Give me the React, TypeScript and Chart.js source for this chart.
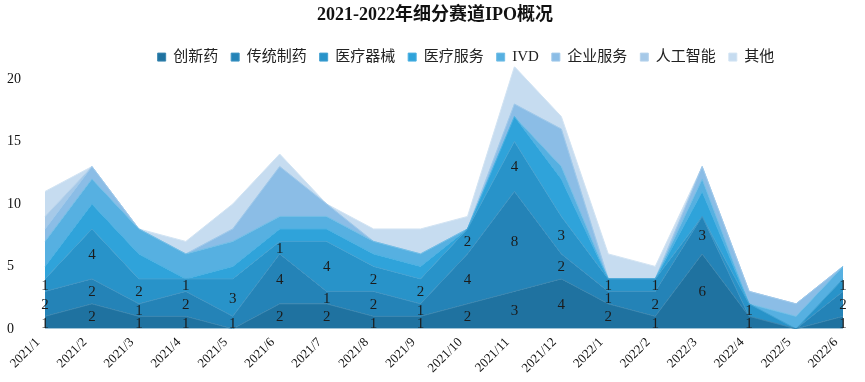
import React, { useEffect, useRef } from "react";
import { Chart, registerables } from "chart.js";

Chart.register(...registerables);

const months = [
  "2021/1", "2021/2", "2021/3", "2021/4", "2021/5", "2021/6", "2021/7", "2021/8", "2021/9",
  "2021/10", "2021/11", "2021/12", "2022/1", "2022/2", "2022/3", "2022/4", "2022/5", "2022/6",
];

const seriesNames = ["创新药", "传统制药", "医疗器械", "医疗服务", "IVD", "企业服务", "人工智能", "其他"];

const innovativeDrugs = [1, 2, 1, 1, 0, 2, 2, 1, 1, 2, 3, 4, 2, 1, 6, 1, 0, 1];
const traditionalPharma = [2, 2, 1, 2, 1, 4, 1, 2, 1, 4, 8, 2, 1, 2, 3, 0, 0, 2];
const medicalDevices = [1, 4, 2, 1, 3, 1, 4, 2, 2, 2, 4, 3, 1, 1, 0, 1, 0, 1];
const medicalServices = [1, 2, 2, 0, 1, 1, 1, 1, 1, 0, 2, 3, 0, 0, 2, 0, 0, 0];
const ivd = [2, 2, 2, 2, 2, 1, 1, 1, 1, 0, 0, 1, 0, 0, 1, 0, 1, 1];
const enterpriseServices = [1, 1, 0, 0, 1, 4, 1, 0, 0, 0, 1, 3, 0, 0, 1, 1, 1, 0];
const artificialIntelligence = [1, 0, 0, 0, 0, 0, 0, 0, 0, 0, 0, 0, 0, 0, 0, 0, 0, 0];
const others = [2, 0, 0, 1, 2, 1, 0, 1, 2, 1, 3, 1, 2, 1, 0, 0, 0, 0];

const seriesValues = [
  innovativeDrugs, traditionalPharma, medicalDevices, medicalServices,
  ivd, enterpriseServices, artificialIntelligence, others,
];

const yTicks = [0, 5, 10, 15, 20];

const fillColors = ["#1f72a0", "#2483b7", "#2893c9", "#2fa3da", "#56b0e1", "#8bbde6", "#a6c9e8", "#c6dcf0"];
const lineColors = ["#3a86b0", "#3f94c3", "#44a2d2", "#4cb1e2", "#72bee6", "#a0c9ea", "#b7d3ec", "#d3e4f3"];

const LABELED_SERIES = 3;
const TITLE_CENTER_X = 435;
const LEGEND_CENTER_X = 466;

const segmentLabels = {
  id: "segmentLabels",
  afterDatasetsDraw(chart: any) {
    const ctx = chart.ctx;
    const xs = chart.scales.x;
    const ys = chart.scales.y;
    ctx.save();
    ctx.font = "15px 'Liberation Serif', 'Times New Roman', serif";
    ctx.fillStyle = "#1b1b1b";
    ctx.textAlign = "center";
    ctx.textBaseline = "middle";
    for (let d = 0; d < LABELED_SERIES; d++) {
      const vals = seriesValues[d];
      for (let i = 0; i < vals.length; i++) {
        const v = vals[i];
        if (!v) continue;
        let base = 0;
        for (let k = 0; k < d; k++) base += seriesValues[k][i];
        const x = xs.getPixelForValue(i);
        const y = ys.getPixelForValue(base + v / 2);
        ctx.fillText(String(v), x, y + 1);
      }
    }
    ctx.restore();
  },
};

const headerPlacement = {
  id: "headerPlacement",
  afterLayout(chart: any) {
    const t = chart.titleBlock;
    if (t) {
      const d = TITLE_CENTER_X - (t.left + t.right) / 2;
      t.left += d;
      t.right += d;
    }
    const lg = chart.legend;
    if (lg) {
      const d = LEGEND_CENTER_X - (lg.left + lg.right) / 2;
      lg.left += d;
      lg.right += d;
    }
  },
};

export default function App() {
  const canvasRef = useRef<HTMLCanvasElement | null>(null);

  useEffect(() => {
    document.body.style.margin = "0";
    const canvas = canvasRef.current;
    if (!canvas) return;
    const chart = new Chart(canvas, {
      type: "line",
      data: {
        labels: months,
        datasets: seriesNames.map((name, idx) => ({
          label: name,
          data: seriesValues[idx],
          backgroundColor: fillColors[idx],
          borderColor: lineColors[idx],
          borderWidth: 1,
          pointRadius: 0,
          tension: 0,
          fill: idx === 0 ? "origin" : "-1",
        })),
      },
      options: {
        responsive: false,
        animation: false,
        devicePixelRatio: 1,
        layout: { padding: { left: 7, right: 22, top: 0, bottom: 0 } },
        plugins: {
          tooltip: { enabled: false },
          title: {
            display: true,
            text: "2021-2022年细分赛道IPO概况",
            color: "#111",
            font: { family: "'Liberation Serif', 'Noto Sans CJK SC', serif", size: 18, weight: "bold" },
            padding: { top: 5, bottom: 10 },
          },
          legend: {
            display: true,
            maxHeight: 30,
            labels: {
              boxWidth: 8,
              boxHeight: 8,
              padding: 13,
              color: "#222",
              font: { family: "'Liberation Serif', 'Noto Sans CJK SC', serif", size: 15 },
            },
          },
        },
        scales: {
          x: {
            grid: { display: false, drawTicks: false },
            border: { display: false },
            ticks: {
              autoSkip: false,
              minRotation: 45,
              maxRotation: 45,
              padding: 6,
              labelOffset: -7,
              color: "#111",
              font: { family: "'Liberation Serif', 'Times New Roman', serif", size: 13 },
            },
          },
          y: {
            stacked: true,
            min: 0,
            max: 21,
            grid: { display: false, drawTicks: false },
            border: { display: false },
            afterBuildTicks: (scale: any) => {
              scale.ticks = yTicks.map((v) => ({ value: v }));
            },
            ticks: {
              crossAlign: "far",
              padding: 12,
              color: "#111",
              font: { family: "'Liberation Serif', 'Times New Roman', serif", size: 14 },
            },
          },
        },
      },
      plugins: [segmentLabels, headerPlacement],
    });
    return () => chart.destroy();
  }, []);

  return (
    <div style={{ width: 865, height: 382, background: "#fff" }}>
      <canvas ref={canvasRef} width={865} height={382} />
    </div>
  );
}
